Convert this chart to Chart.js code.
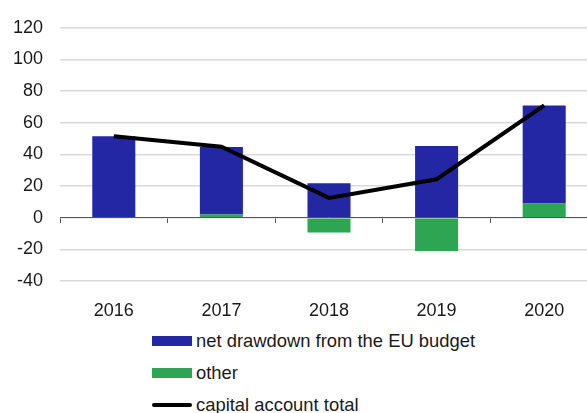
<!DOCTYPE html>
<html>
<head>
<meta charset="utf-8">
<script src="https://cdn.jsdelivr.net/npm/chart.js@4/dist/chart.umd.min.js"></script>
<style>
    html, body { margin: 0; padding: 0; background: #fff; overflow: hidden; }
    .wrap { position: relative; width: 600px; height: 413px; }
    .chart-box { position: absolute; left: 0; top: 0; width: 600px; height: 320px; }
    .legend { position: absolute; left: 152px; top: 325px; font: 18.4px Arial, "Liberation Sans", sans-serif; color: #1a1a1a; }
    .legend div { height: 32px; display: flex; align-items: center; }
    .legend span.box { display: inline-block; width: 40px; margin-right: 4px; }
</style>
</head>
<body>
<div class="wrap">
    <div class="chart-box"><canvas id="chart-capital"></canvas></div>
    <div class="legend" id="legend"></div>
</div>
<script>
const years = ['2016', '2017', '2018', '2019', '2020']
const euBudget = [51.2, 42.7, 21.8, 45.3, 62.0]
const other = [0.3, 2.0, -9.3, -21.0, 8.9]
const capitalTotal = [51.5, 44.9, 12.5, 24.3, 71.0]
const yTicks = [-40, -20, 0, 20, 40, 60, 80, 100, 120]

const blue = '#2327a3'
const green = '#2ea553'
const fontFamily = 'Arial, "Liberation Sans", sans-serif'

const ctx = document.getElementById('chart-capital').getContext('2d')
const myChart = new Chart(ctx, {
    type: 'bar',
    data: {
        labels: years,
        datasets: [{
            label: 'net drawdown from the EU budget',
            data: euBudget,
            backgroundColor: blue,
            barPercentage: 0.4,
            categoryPercentage: 1,
            order: 2
        }, {
            label: 'other',
            data: other,
            backgroundColor: green,
            barPercentage: 0.4,
            categoryPercentage: 1,
            order: 1
        }, {
            type: 'line',
            label: 'capital account total',
            data: capitalTotal,
            borderColor: '#000',
            borderWidth: 4,
            pointRadius: 0,
            tension: 0,
            stack: 'line',
            order: 0
        }]
    },
    options: {
        responsive: true,
        maintainAspectRatio: false,
        animation: false,
        layout: { padding: { top: 26, left: 0, right: 2, bottom: 0 } },
        plugins: {
            legend: { display: false },
            tooltip: { enabled: false }
        },
        scales: {
            x: {
                stacked: true,
                offset: true,
                grid: { display: false, offset: true },
                border: { display: false },
                ticks: { color: '#1a1a1a', padding: 11, font: { family: fontFamily, size: 18 } },
                afterFit: (scale) => { scale.height = 39 }
            },
            // axis line through zero with short marks between the years
            xZero: {
                type: 'category',
                position: { y: 0 },
                offset: true,
                grid: { offset: true, drawOnChartArea: false, drawTicks: true, tickLength: 5, color: '#555', lineWidth: 1 },
                border: { display: true, color: '#555', width: 1 },
                ticks: { display: false }
            },
            y: {
                stacked: true,
                min: -40,
                max: 120,
                afterBuildTicks: (scale) => { scale.ticks = yTicks.map(v => ({ value: v })) },
                grid: { color: '#d9d9d9', lineWidth: 1.5, drawTicks: false },
                border: { display: false },
                ticks: { color: '#1a1a1a', padding: 17, font: { family: fontFamily, size: 18 } },
                afterFit: (scale) => { scale.width = 60 }
            }
        }
    }
})

// legend below the chart, one entry per row
function renderLegend(chart) {
    let main = document.getElementById('legend')
    main.innerHTML = ''
    chart.data.datasets.forEach(ds => {
        let row = document.createElement('div')
        let box = document.createElement('span')
        box.className = 'box'
        if (ds.type === 'line') {
            box.style.height = '4px'
            box.style.borderRadius = '2px'
            box.style.background = ds.borderColor
        } else {
            box.style.height = '10px'
            box.style.background = ds.backgroundColor
        }
        row.appendChild(box)
        row.appendChild(document.createTextNode(ds.label))
        main.appendChild(row)
    })
}
renderLegend(myChart)
</script>
</body>
</html>
